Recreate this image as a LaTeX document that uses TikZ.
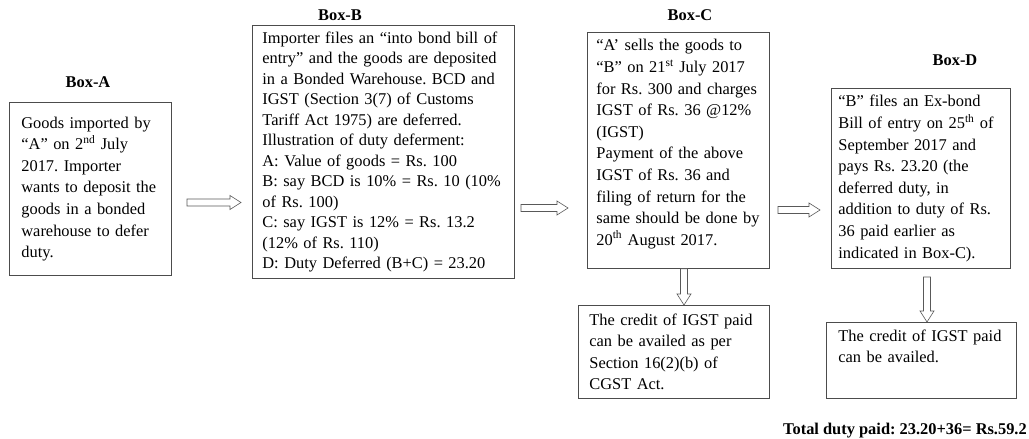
\documentclass[tikz,border=0pt]{standalone}
\usepackage{fontspec}
\setmainfont{Liberation Serif}
\usetikzlibrary{calc,positioning}
\definecolor{boxline}{gray}{0.3}
\frenchspacing
\tikzset{
    flow box/.style={
        draw=boxline, line width=.8pt,
        anchor=north west, align=left,
        inner xsep=10pt, inner ysep=4pt,
        font=\fontsize{16.4}{21.6}\selectfont
    },
    box title/.style={inner sep=0pt, font=\fontsize{16.4}{20}\selectfont\bfseries},
    hollow/.style={draw=black!65, line width=.6pt, fill=white, line join=miter},
}
% hollow block arrow between two named points
\newcommand{\hollowarrow}[2]{%
    \coordinate (hb) at ($(#2)!11pt!(#1)$);
    \draw[hollow] ($(#1)!3.5pt!90:(#2)$) -- ($(hb)!3.5pt!90:(#2)$) -- ($(hb)!7pt!90:(#2)$) -- (#2)
        -- ($(hb)!7pt!-90:(#2)$) -- ($(hb)!3.5pt!-90:(#2)$) -- ($(#1)!3.5pt!-90:(#2)$) -- cycle;
}

\begin{document}
\begin{tikzpicture}[x=1pt,y=1pt]
    \useasboundingbox (0,0) rectangle (1029,439);

    \node[flow box, inner xsep=12pt, text width=138pt, minimum width=162pt, minimum height=173pt] (boxA) at (9,337)
        {Goods imported by\\ “A” on 2\textsuperscript{nd} July\\ 2017. Importer\\ wants to deposit the\\ goods in a bonded\\ warehouse to defer\\ duty.};
    \node[flow box, font=\fontsize{16.4}{20.5}\selectfont, inner ysep=2pt, text width=242pt, minimum width=262pt, minimum height=253pt] (boxB) at (252,414)
        {Importer files an “into bond bill of\\ entry” and the goods are deposited\\ in a Bonded Warehouse. BCD and\\ IGST (Section 3(7) of Customs\\ Tariff Act 1975) are deferred.\\ Illustration of duty deferment:\\ A: Value of goods = Rs. 100\\ B: say BCD is 10\% = Rs. 10 (10\%\\ of Rs. 100)\\ C: say IGST is 12\% = Rs. 13.2\\ (12\% of Rs. 110)\\ D: Duty Deferred (B+C) = 23.20};
    \node[flow box, text width=164pt, minimum width=182pt, minimum height=236pt, inner xsep=9pt] (boxC) at (587,407)
        {“A’ sells the goods to\\ “B” on 21\textsuperscript{st} July 2017\\ for Rs. 300 and charges\\ IGST of Rs. 36 @12\%\\ (IGST)\\ Payment of the above\\ IGST of Rs. 36 and\\ filing of return for the\\ same should be done by\\ 20\textsuperscript{th} August 2017.\\[-12pt]\strut};
    \node[flow box, inner xsep=7pt, text width=165pt, minimum width=179pt, minimum height=180pt] (boxD) at (831,351)
        {“B” files an Ex-bond\\ Bill of entry on 25\textsuperscript{th} of\\ September 2017 and\\ pays Rs. 23.20 (the\\ deferred duty, in\\ addition to duty of Rs.\\ 36 paid earlier as\\ indicated in Box-C).};
    \node[flow box, inner xsep=11pt, text width=169pt, minimum width=191pt, minimum height=93pt] (creditC) at (578,134)
        {The credit of IGST paid\\ can be availed as per\\ Section 16(2)(b) of\\ CGST Act.};
    \node[flow box, inner xsep=12pt, text width=166pt, minimum width=190pt, minimum height=76pt] (creditD) at (826,117)
        {The credit of IGST paid\\ can be availed.\\ \strut};

    \node[box title] (titleA) at (88,357) {Box-A};
    \node[box title] (titleB) at (340,424) {Box-B};
    \node[box title] (titleC) at (690,424) {Box-C};
    \node[box title] (titleD) at (955,379) {Box-D};
    \node[box title, anchor=base east] (total) at (1027,4) {Total duty paid: 23.20+36= Rs.59.2};

    % arrow ends
    \coordinate (ab1) at (187,236.5);  \coordinate (ab2) at (241,236.5);
    \coordinate (bc1) at (521,231);    \coordinate (bc2) at (568,231);
    \coordinate (cd1) at (778,229);    \coordinate (cd2) at (820,229);
    \coordinate (cc1) at (boxC.south -| 684,0);  \coordinate (cc2) at (creditC.north -| 684,0);
    \coordinate (dd1) at (927,162);    \coordinate (dd2) at (creditD.north -| 927,0);
    \foreach \s/\t in {ab1/ab2,bc1/bc2,cd1/cd2,cc1/cc2,dd1/dd2}
        \hollowarrow{\s}{\t};
\end{tikzpicture}
\end{document}
